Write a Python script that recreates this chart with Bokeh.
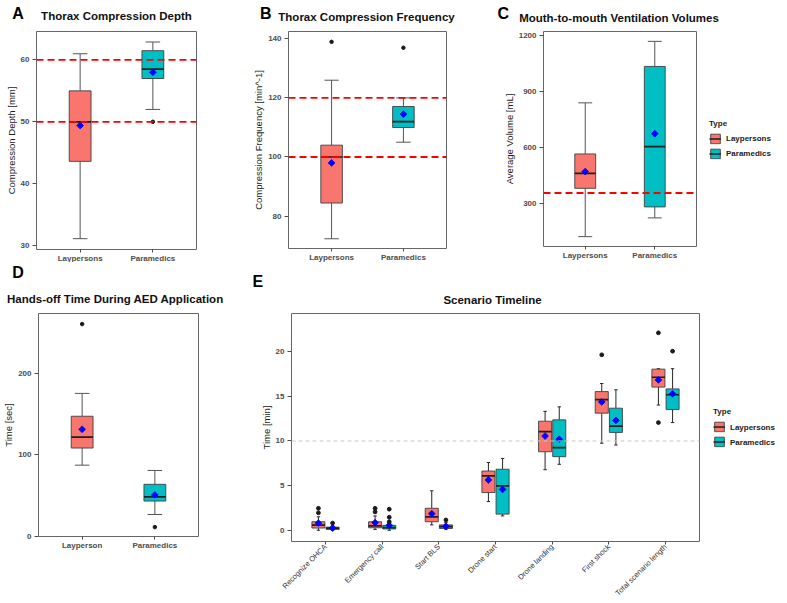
import math
from bokeh.plotting import figure
from bokeh.models import (ColumnDataSource, FactorRange, Range1d, Span,
                          Legend, LegendItem)
from bokeh.transform import dodge
from bokeh.layouts import row, column
from bokeh.core.properties import value
from bokeh.embed import file_html
from bokeh.resources import INLINE

# ---------------- data ----------------
groups = ["Laypersons", "Paramedics"]
groups_d = ["Layperson", "Paramedics"]
legend_title = "Type"
panel_letters = ["A", "B", "C", "D", "E"]
panel_titles = ["Thorax Compression Depth", "Thorax Compression Frequency",
                "Mouth-to-mouth Ventilation Volumes", "Hands-off Time During AED Application",
                "Scenario Timeline"]

# A: thorax compression depth (mm)
depth_lower = [31.1, 52.0]
depth_q1 = [43.6, 57.0]
depth_median = [50.0, 58.5]
depth_q3 = [55.0, 61.5]
depth_upper = [61.0, 62.9]
depth_mean = [49.4, 58.0]
depth_out_group = ["Paramedics"]
depth_out_value = [50.0]
depth_ref = [50, 60]
depth_ticks = [30, 40, 50, 60]

# B: thorax compression frequency (1/min)
freq_lower = [72.3, 105.0]
freq_q1 = [84.4, 110.0]
freq_median = [100.0, 112.0]
freq_q3 = [104.0, 117.1]
freq_upper = [126.0, 120.0]
freq_mean = [98.0, 114.5]
freq_out_group = ["Laypersons", "Paramedics"]
freq_out_value = [139.0, 137.0]
freq_ref = [100, 120]
freq_ticks = [80, 100, 120, 140]

# C: ventilation volumes (mL)
vol_lower = [120.0, 221.0]
vol_q1 = [380.0, 280.0]
vol_median = [461.0, 605.0]
vol_q3 = [565.0, 1036.0]
vol_upper = [840.0, 1171.0]
vol_mean = [470.0, 674.0]
vol_ref = [355]
vol_ticks = [300, 600, 900, 1200]

# D: hands-off time (sec)
hoff_lower = [87.0, 26.5]
hoff_q1 = [108.0, 43.0]
hoff_median = [121.5, 48.0]
hoff_q3 = [147.0, 63.5]
hoff_upper = [175.0, 80.5]
hoff_mean = [131.0, 50.5]
hoff_out_group = ["Layperson", "Paramedics"]
hoff_out_value = [260.0, 11.0]
hoff_ticks = [0, 100, 200]

# E: scenario timeline (min)
steps = ["Recognize OHCA", "Emergency call", "Start BLS", "Drone start",
         "Drone landing", "First shock", "Total scenario length"]
lay_lower = [0.05, 0.15, 0.65, 3.25, 6.8, 9.75, 14.0]
lay_q1 = [0.3, 0.33, 1.0, 4.25, 8.8, 13.1, 16.0]
lay_median = [0.63, 0.55, 1.55, 6.1, 11.05, 14.6, 17.1]
lay_q3 = [1.0, 1.0, 2.5, 6.65, 12.2, 15.5, 18.0]
lay_upper = [1.55, 1.65, 4.45, 7.6, 13.3, 16.4, 18.05]
lay_mean = [0.85, 0.9, 1.9, 5.65, 10.55, 14.35, 16.8]
lay_out_step = ["Recognize OHCA", "Recognize OHCA", "Emergency call", "Emergency call",
                "First shock", "Total scenario length", "Total scenario length"]
lay_out_value = [2.5, 2.0, 2.5, 2.1, 19.6, 22.05, 12.05]

para_lower = [0.05, 0.05, 0.15, 1.65, 7.4, 9.55, 12.05]
para_q1 = [0.15, 0.2, 0.25, 1.85, 8.25, 10.95, 13.5]
para_median = [0.3, 0.35, 0.45, 5.0, 9.25, 11.65, 15.15]
para_q3 = [0.4, 0.6, 0.65, 6.85, 12.35, 13.65, 15.8]
para_upper = [0.55, 0.8, 0.9, 8.05, 13.8, 15.7, 18.05]
para_mean = [0.3, 0.6, 0.5, 4.6, 10.2, 12.3, 15.25]
para_out_step = ["Recognize OHCA", "Emergency call", "Emergency call", "Emergency call",
                 "Start BLS", "Total scenario length"]
para_out_value = [0.85, 2.4, 1.5, 1.0, 1.2, 20.0]
time_ref = [10]
time_ticks = [0, 5, 10, 15, 20]

# ---------------- style / geometry ----------------
FONT = "Liberation Sans"
LAY = "#F8766D"
PARA = "#00BFC4"
TICK_COL = "#4d4d4d"
PAGE_W = 786
HEAD1_H = 24
HEAD2_H = 46
LETTER_PX = 16
TITLE_PX = 11.5
MID = 0.3465  # distance from alphabetic baseline to text-box middle, in em

# (x0, left, frame_w, right, top, frame_h, bottom)
geoA = (0, 36, 160, 54, 4, 218, 14)
geoB = (250, 37, 158, 51, 5, 217, 14)
geoC = (496, 46, 153, 91, 7, 215, 14)
geoD = (0, 35, 160, 55, 4, 223, 69)
geoE = (250, 38, 408, 90, 5, 228, 63)


def base_fig(cats, y0, y1, ticks, geo, ylabel):
    _, lb, fw, rb, tb, fh, bb = geo
    p = figure(x_range=FactorRange(factors=cats, range_padding=0.1,
                                   range_padding_units="absolute"),
               y_range=Range1d(y0, y1), frame_width=fw, frame_height=fh,
               min_border_left=lb, min_border_right=rb, min_border_top=tb,
               min_border_bottom=bb, output_backend="svg", toolbar_location=None,
               title_location=None,
               background_fill_color="white", border_fill_color="white")
    p.xgrid.visible = False
    p.ygrid.visible = False
    p.outline_line_color = "#666666"
    p.outline_line_width = 1
    p.yaxis.ticker = ticks
    p.yaxis.axis_label = ylabel
    for ax in p.axis:
        ax.axis_line_color = None
        ax.major_tick_line_color = TICK_COL
        ax.major_tick_in = 0
        ax.minor_tick_line_color = None
        ax.major_label_text_font = FONT
        ax.major_label_text_font_size = "8px"
        ax.major_label_text_font_style = "bold"
        ax.major_label_text_color = TICK_COL
        ax.axis_label_text_font = FONT
        ax.axis_label_text_font_size = "9.5px"
        ax.axis_label_text_font_style = "normal"
        ax.axis_label_text_color = "#1a1a1a"
    p.yaxis.major_tick_out = 4
    p.yaxis.major_label_standoff = 3
    p.yaxis.axis_label_standoff = 1
    p.xaxis.major_tick_out = 3
    p.xaxis.major_label_standoff = 1
    return p


def draw_boxes(p, src, off, bw, cap, line_col, mean_size):
    xc = dodge("cat", off, range=p.x_range)
    xl = dodge("cat", off - cap / 2, range=p.x_range)
    xr = dodge("cat", off + cap / 2, range=p.x_range)
    ml = dodge("cat", off - bw / 2, range=p.x_range)
    mr = dodge("cat", off + bw / 2, range=p.x_range)
    p.segment(x0=xc, y0="q3", x1=xc, y1="upper", source=src, line_color=line_col, line_width=1)
    p.segment(x0=xc, y0="q1", x1=xc, y1="lower", source=src, line_color=line_col, line_width=1)
    p.segment(x0=xl, y0="upper", x1=xr, y1="upper", source=src, line_color=line_col, line_width=1)
    p.segment(x0=xl, y0="lower", x1=xr, y1="lower", source=src, line_color=line_col, line_width=1)
    box = p.vbar(x=xc, width=bw, top="q3", bottom="q1", source=src, fill_color="color",
                 line_color="#404040", line_width=0.9)
    med = p.segment(x0=ml, y0="median", x1=mr, y1="median", source=src,
                    line_color="#1f1f1f", line_width=1.7)
    p.scatter(x=xc, y="mean", source=src, marker="square", angle=math.pi / 4,
              size=mean_size, fill_color="#0000FF", line_color="#0000FF", line_width=0.8)
    return box, med


def box_src(cats, lower, q1, median, q3, upper, mean, colors):
    return ColumnDataSource(dict(cat=cats, lower=lower, q1=q1, median=median, q3=q3,
                                 upper=upper, mean=mean, color=colors))


def outliers(p, cats, vals, off=0.0, size=3.5):
    src = ColumnDataSource(dict(cat=cats, val=vals))
    p.scatter(x=dodge("cat", off, range=p.x_range), y="val", source=src, size=size,
              fill_color="#1a1a1a", line_color="#1a1a1a")


def ref_lines(p, locs, color, dash, width):
    for v in locs:
        p.add_layout(Span(location=v, dimension="width", line_color=color,
                          line_dash=dash, line_width=width))


def make_legend(p, items, gap):
    lg = Legend(items=items, title=legend_title, location="center_left",
                orientation="vertical")
    lg.title_text_font = FONT
    lg.title_text_font_size = "8px"
    lg.title_text_font_style = "bold"
    lg.title_text_color = "#1a1a1a"
    lg.title_standoff = 5
    lg.label_text_font = FONT
    lg.label_text_font_size = "8px"
    lg.label_text_font_style = "bold"
    lg.label_text_color = "#1a1a1a"
    lg.glyph_width = 12
    lg.glyph_height = 12
    lg.label_height = 12
    lg.label_standoff = 5
    lg.spacing = 3
    lg.padding = 0
    lg.margin = gap
    lg.border_line_color = None
    lg.background_fill_alpha = 0
    p.add_layout(lg, "right")


def header(height, letters, lx, lbase, titles, tx, tbase):
    h = figure(width=PAGE_W, height=height, x_range=Range1d(0, PAGE_W),
               y_range=Range1d(height, 0), min_border=0, min_border_top=0,
               min_border_bottom=0, min_border_left=0, min_border_right=0,
               toolbar_location=None, title_location=None,
               output_backend="svg", x_axis_location=None, y_axis_location=None,
               outline_line_color=None, background_fill_color="white",
               border_fill_color="white")
    h.xgrid.visible = False
    h.ygrid.visible = False
    ly = [b - MID * LETTER_PX for b in lbase]
    ty = [b - MID * TITLE_PX for b in tbase]
    h.text(x=lx, y=ly, text=letters, text_font=value(FONT),
           text_font_size=value(f"{LETTER_PX}px"),
           text_font_style="bold", text_color="black", text_baseline="middle",
           text_align="left")
    h.text(x=tx, y=ty, text=titles, text_font=value(FONT),
           text_font_size=value(f"{TITLE_PX}px"),
           text_font_style="bold", text_color="#111111", text_baseline="middle",
           text_align="center")
    return h


def frame_center(geo):
    return geo[0] + geo[1] + geo[2] / 2


colors = [LAY, PARA]

# ---------------- panel A ----------------
pA = base_fig(groups, 29.35, 64.6, depth_ticks, geoA, "Compression Depth [mm]")
draw_boxes(pA, box_src(groups, depth_lower, depth_q1, depth_median, depth_q3, depth_upper,
                       depth_mean, colors), 0.0, 0.3, 0.2, "#555555", 4.8)
outliers(pA, depth_out_group, depth_out_value)
ref_lines(pA, depth_ref, "#FF0000", "7 4", 1.8)

# ---------------- panel B ----------------
pB = base_fig(groups, 69.0, 142.5, freq_ticks, geoB, "Compression Frequency [min^-1]")
draw_boxes(pB, box_src(groups, freq_lower, freq_q1, freq_median, freq_q3, freq_upper,
                       freq_mean, colors), 0.0, 0.3, 0.2, "#555555", 4.8)
outliers(pB, freq_out_group, freq_out_value)
ref_lines(pB, freq_ref, "#FF0000", "7 4", 1.8)

# ---------------- panel C ----------------
pC = base_fig(groups, 67.0, 1224.0, vol_ticks, geoC, "Average Volume [mL]")
boxC, medC = draw_boxes(pC, box_src(groups, vol_lower, vol_q1, vol_median, vol_q3, vol_upper,
                                    vol_mean, colors), 0.0, 0.3, 0.2, "#555555", 4.8)
ref_lines(pC, vol_ref, "#FF0000", "7 4", 1.8)
make_legend(pC, [LegendItem(label=groups[0], renderers=[boxC, medC], index=0),
                 LegendItem(label=groups[1], renderers=[boxC, medC], index=1)], 13)

# ---------------- panel D ----------------
pD = base_fig(groups_d, -0.5, 273.0, hoff_ticks, geoD, "Time [sec]")
draw_boxes(pD, box_src(groups_d, hoff_lower, hoff_q1, hoff_median, hoff_q3, hoff_upper,
                       hoff_mean, colors), 0.0, 0.3, 0.2, "#555555", 4.8)
outliers(pD, hoff_out_group, hoff_out_value)

# ---------------- panel E ----------------
pE = base_fig(steps, -1.2, 24.2, time_ticks, geoE, "Time [min]")
pE.xaxis.major_label_orientation = math.pi / 4
pE.xaxis.major_label_text_font_size = "7.5px"
pE.xaxis.major_label_text_font_style = "normal"
pE.xaxis.major_label_text_color = "#333333"
pE.xaxis.major_label_standoff = 1
boxL, medL = draw_boxes(pE, box_src(steps, lay_lower, lay_q1, lay_median, lay_q3, lay_upper,
                                    lay_mean, [LAY] * len(steps)),
                        -0.125, 0.23, 0.06, "#262626", 4.8)
boxP, medP = draw_boxes(pE, box_src(steps, para_lower, para_q1, para_median, para_q3, para_upper,
                                    para_mean, [PARA] * len(steps)),
                        0.125, 0.23, 0.06, "#262626", 4.8)
outliers(pE, lay_out_step, lay_out_value, -0.125, 3.8)
outliers(pE, para_out_step, para_out_value, 0.125, 3.8)
ref_lines(pE, time_ref, "#c8c8c8", "4 3", 1)
make_legend(pE, [LegendItem(label=groups[0], renderers=[boxL, medL]),
                 LegendItem(label=groups[1], renderers=[boxP, medP])], 14)

# ---------------- headers (panel letters and titles) ----------------
head1 = header(HEAD1_H, panel_letters[:3], [11.7, 259.5, 497.0], [18.3, 19.0, 18.5],
               panel_titles[:3], [frame_center(geoA), frame_center(geoB), frame_center(geoC)],
               [19.8, 20.6, 21.5])
head2 = header(HEAD2_H, panel_letters[3:], [11.7, 252.0], [15.5, 25.0],
               panel_titles[3:], [frame_center(geoD), frame_center(geoE)],
               [40.0, 41.5])

root = column(head1, row(pA, pB, pC), head2, row(pD, pE))

open("out.html", "w").write(file_html(root, INLINE))
